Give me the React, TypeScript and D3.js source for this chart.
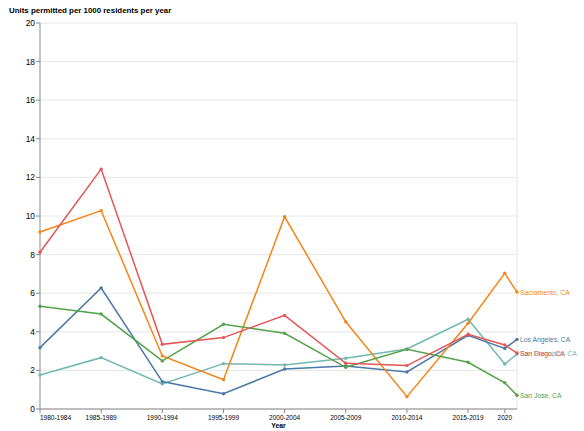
import * as d3 from 'd3';

const periods = ['1980-1984', '1985-1989', '1990-1994', '1995-1999', '2000-2004', '2005-2009', '2010-2014', '2015-2019', '2020', '2021'];
const periodYears = [1982, 1987, 1992, 1997, 2002, 2007, 2012, 2017, 2020, 2021];
const tickLabels = ['1980-1984', '1985-1989', '1990-1994', '1995-1999', '2000-2004', '2005-2009', '2010-2014', '2015-2019', '2020'];
const yTicks = [0, 2, 4, 6, 8, 10, 12, 14, 16, 18, 20];

const sanFrancisco = [1.76, 2.66, 1.3, 2.35, 2.28, 2.63, 3.11, 4.65, 2.33, 2.85];
const losAngeles = [3.18, 6.27, 1.42, 0.79, 2.07, 2.23, 1.92, 3.82, 3.14, 3.61];
const sacramento = [9.17, 10.28, 2.75, 1.52, 9.96, 4.52, 0.64, 4.44, 7.03, 6.06];
const sanJose = [5.32, 4.92, 2.49, 4.39, 3.92, 2.16, 3.09, 2.42, 1.36, 0.71];
const sanDiego = [8.12, 12.43, 3.35, 3.7, 4.85, 2.37, 2.25, 3.87, 3.32, 2.9];

const series = [
  { name: 'San Francisco, CA', color: '#72b7b2', values: sanFrancisco },
  { name: 'Los Angeles, CA', color: '#4c78a8', values: losAngeles },
  { name: 'Sacramento, CA', color: '#f58518', values: sacramento },
  { name: 'San Jose, CA', color: '#54a24b', values: sanJose },
  { name: 'San Diego, CA', color: '#e45756', values: sanDiego },
];

const W = 584;
const H = 431;
const left = 40;
const right = 517;
const top = 23;
const bottom = 409;
const font = 'Liberation Sans, Arial, Helvetica, sans-serif';

export default function App() {
  const x = d3.scaleLinear().domain([1982, 2021]).range([left, right]);
  const y = d3.scaleLinear().domain([0, 20]).range([bottom, top]);
  const line = d3
    .line<number>()
    .x((_, i) => x(periodYears[i]))
    .y((d) => y(d));

  return (
    <svg width={W} height={H} style={{ position: 'absolute', left: 0, top: 0, background: '#fff' }} fontFamily={font}>
      <text x={9} y={13} fontSize={7.9} fontWeight="bold" fill="#000">
        Units permitted per 1000 residents per year
      </text>
      {yTicks.map((t) => (
        <g key={t}>
          <line x1={left} x2={right} y1={y(t)} y2={y(t)} stroke="#e6e6e6" strokeWidth={1} />
          <line x1={left - 4} x2={left} y1={y(t)} y2={y(t)} stroke="#888" strokeWidth={1} />
          <text x={left - 5} y={y(t) + 3} fontSize={8.4} textAnchor="end" fill="#000">
            {t}
          </text>
        </g>
      ))}
      <line x1={right} x2={right} y1={top} y2={bottom} stroke="#e6e6e6" strokeWidth={1} />
      <line x1={left} x2={left} y1={top} y2={bottom} stroke="#888" strokeWidth={1} />
      <line x1={left} x2={right} y1={bottom} y2={bottom} stroke="#888" strokeWidth={1} />
      {tickLabels.map((lab, i) => (
        <g key={lab}>
          <line x1={x(periodYears[i])} x2={x(periodYears[i])} y1={bottom} y2={bottom + 4} stroke="#888" strokeWidth={1} />
          <text x={x(periodYears[i])} y={bottom + 11} fontSize={6.5} textAnchor={i === 0 ? 'start' : 'middle'} fill="#000">
            {lab}
          </text>
        </g>
      ))}
      <text x={(left + right) / 2} y={bottom + 19} fontSize={6.8} fontWeight="bold" textAnchor="middle" fill="#000">
        Year
      </text>
      {series.map((s) => (
        <g key={s.name}>
          <path d={line(s.values) || ''} fill="none" stroke={s.color} strokeWidth={1.5} />
          {s.values.map((v, i) => (
            <circle key={periods[i]} cx={x(periodYears[i])} cy={y(v)} r={1.7} fill={s.color} />
          ))}
          <text x={right + 3} y={y(s.values[s.values.length - 1]) + 2.5} fontSize={6.8} fill={s.color}>
            {s.name}
          </text>
        </g>
      ))}
    </svg>
  );
}
